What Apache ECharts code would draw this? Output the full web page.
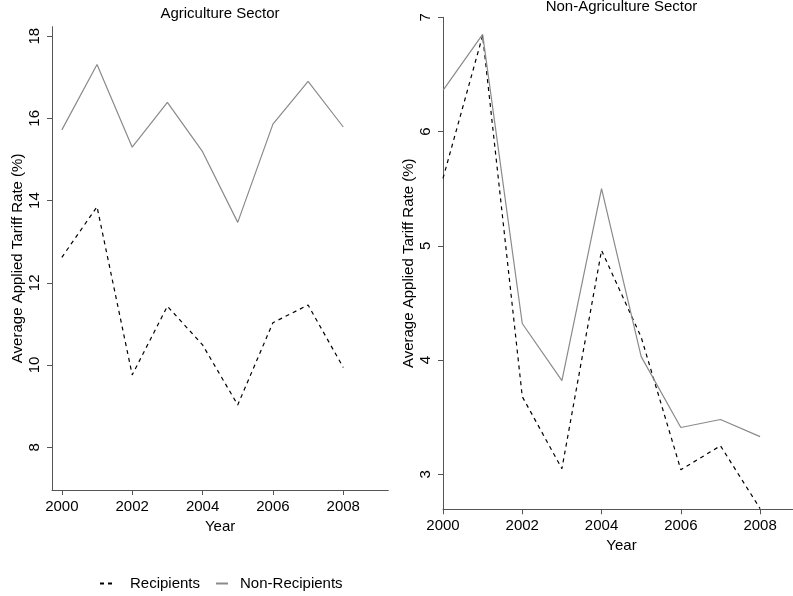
<!DOCTYPE html>
<html>
<head>
<meta charset="utf-8">
<script src="https://cdn.jsdelivr.net/npm/echarts@6/dist/echarts.min.js"></script>
<style>
html,body{margin:0;padding:0;background:#fff;}
#chart{width:793px;height:596px;}
</style>
</head>
<body>
<div id="chart"></div>
<script>
const years = [2000, 2001, 2002, 2003, 2004, 2005, 2006, 2007, 2008];
const agriRecipients = [12.62, 13.85, 9.76, 11.43, 10.49, 9.03, 11.03, 11.46, 9.94];
const agriNonRecipients = [15.72, 17.31, 15.30, 16.39, 15.19, 13.47, 15.86, 16.90, 15.79];
const nonAgriRecipients = [5.59, 6.84, 3.68, 3.05, 4.96, 4.20, 3.04, 3.25, 2.70];
const nonAgriNonRecipients = [6.36, 6.85, 4.32, 3.82, 5.50, 4.03, 3.41, 3.48, 3.33];
const xTicks = [2000, 2002, 2004, 2006, 2008];
const agriYTicks = [8, 10, 12, 14, 16, 18];
const nonAgriYTicks = [3, 4, 5, 6, 7];
const titles = ['Agriculture Sector', 'Non-Agriculture Sector'];
const seriesNames = ['Recipients', 'Non-Recipients'];
const yName = 'Average Applied Tariff Rate (%)';
const xName = 'Year';

const FONT = "'Liberation Sans', Arial, Helvetica, sans-serif";
const AXIS_COLOR = '#555';
const pair = (vals) => years.map((y, i) => [y, vals[i]]);

function xAxis(gridIndex, min, max, namePadLeft) {
  return {
    type: 'value', gridIndex, min, max,
    name: xName, nameLocation: 'middle', nameGap: 26.5,
    nameTextStyle: {fontFamily: FONT, fontSize: 15, color: '#000', padding: [0, 0, 0, namePadLeft]},
    axisLine: {show: true, lineStyle: {color: AXIS_COLOR, width: 1}},
    axisTick: {show: true, length: 5, customValues: xTicks, lineStyle: {color: AXIS_COLOR}},
    axisLabel: {customValues: xTicks, margin: 9.5, fontFamily: FONT, fontSize: 15, color: '#000',
      formatter: v => String(v)},
    splitLine: {show: false}
  };
}
function yAxis(gridIndex, min, max, ticks) {
  return {
    type: 'value', gridIndex, min, max,
    name: yName, nameLocation: 'middle', nameGap: 27, nameRotate: 90,
    nameTextStyle: {fontFamily: FONT, fontSize: 15, color: '#000'},
    axisLine: {show: true, lineStyle: {color: AXIS_COLOR, width: 1}},
    axisTick: {show: true, length: 5, customValues: ticks, lineStyle: {color: AXIS_COLOR}},
    axisLabel: {customValues: ticks, margin: 10, rotate: 90, fontFamily: FONT, fontSize: 15, color: '#000',
      formatter: v => String(v)},
    splitLine: {show: false}
  };
}
const recStyle = {color: '#000', width: 1.2, type: [4, 4]};
const nonStyle = {color: '#8a8a8a', width: 1.2, type: 'solid'};

const option = {
  backgroundColor: '#fff',
  animation: false,
  title: [
    {text: titles[0], left: 220, top: 6, textAlign: 'center', padding: 0,
      textStyle: {fontFamily: FONT, fontSize: 15, fontWeight: 'normal', color: '#000'}},
    {text: titles[1], left: 621.5, top: -0.5, textAlign: 'center', padding: 0,
      textStyle: {fontFamily: FONT, fontSize: 15, fontWeight: 'normal', color: '#000'}}
  ],
  legend: {
    left: 99, top: 576, padding: 0, itemGap: 15, itemWidth: 12, itemHeight: 10,
    itemStyle: {opacity: 0},
    textStyle: {fontFamily: FONT, fontSize: 15, color: '#000'},
    data: [
      {name: seriesNames[0], textStyle: {padding: [0, 0, 0, 13]}},
      {name: seriesNames[1], textStyle: {padding: [0, 0, 0, 7]}}
    ],
    selectedMode: false
  },
  grid: [
    {left: 52, top: 26.7, width: 336.3, height: 463.3},
    {left: 443, top: 17.3, width: 350, height: 492}
  ],
  xAxis: [xAxis(0, 1999.72, 2009.28, 0), xAxis(1, 2000, 2008.83, 7)],
  yAxis: [yAxis(0, 6.96, 18.23, agriYTicks), yAxis(1, 2.694, 7.0, nonAgriYTicks)],
  series: [
    {name: seriesNames[0], type: 'line', xAxisIndex: 0, yAxisIndex: 0, data: pair(agriRecipients),
      symbol: 'none', lineStyle: recStyle, itemStyle: {color: '#000'}},
    {name: seriesNames[1], type: 'line', xAxisIndex: 0, yAxisIndex: 0, data: pair(agriNonRecipients),
      symbol: 'none', lineStyle: nonStyle, itemStyle: {color: '#8a8a8a'}},
    {name: seriesNames[0], type: 'line', xAxisIndex: 1, yAxisIndex: 1, data: pair(nonAgriRecipients),
      symbol: 'none', lineStyle: recStyle, itemStyle: {color: '#000'}},
    {name: seriesNames[1], type: 'line', xAxisIndex: 1, yAxisIndex: 1, data: pair(nonAgriNonRecipients),
      symbol: 'none', lineStyle: nonStyle, itemStyle: {color: '#8a8a8a'}}
  ]
};
const chart = echarts.init(document.getElementById('chart'), null, {renderer: 'canvas'});
chart.setOption(option);
</script>
</body>
</html>
